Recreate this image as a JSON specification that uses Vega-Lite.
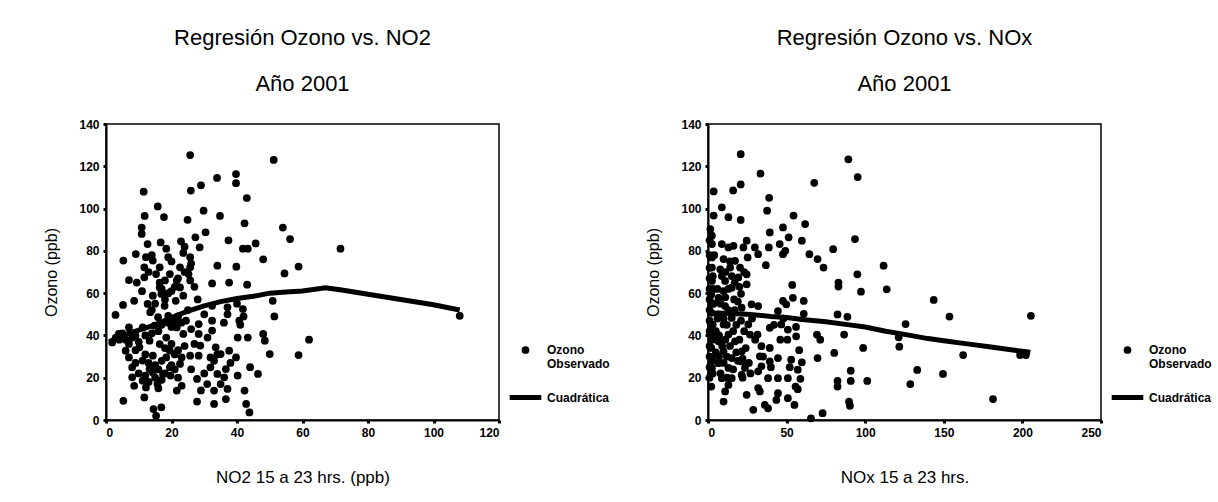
{
 "$schema": "https://vega.github.io/schema/vega-lite/v6.json",
 "background": "white",
 "padding": {"left": 43, "top": 26, "right": 0, "bottom": 0},
 "spacing": 209,
 "bounds": "flush",
 "datasets": {
  "no2_obs": [
   {"no2":25.7,"ozono":125.3},{"no2":51.2,"ozono":123},{"no2":33.9,"ozono":114.5},{"no2":39.7,"ozono":116.3},{"no2":39.7,"ozono":112},{"no2":29,"ozono":111},{"no2":25.9,"ozono":108.5},{"no2":11.5,"ozono":108},{"no2":43,"ozono":105},{"no2":15.8,"ozono":101},{"no2":17.7,"ozono":96},{"no2":11.8,"ozono":96.5},{"no2":24.9,"ozono":94.7},{"no2":29.8,"ozono":99},{"no2":34.8,"ozono":96.5},{"no2":42.3,"ozono":93},{"no2":10.9,"ozono":91},{"no2":10.9,"ozono":88},{"no2":30.4,"ozono":88.8},{"no2":27.3,"ozono":86.4},{"no2":16.7,"ozono":84},{"no2":22.9,"ozono":84.5},{"no2":12.7,"ozono":83.2},{"no2":37.4,"ozono":85},{"no2":45.7,"ozono":83.5},{"no2":43.3,"ozono":81},{"no2":41.8,"ozono":81},{"no2":28.6,"ozono":81.7},{"no2":5.3,"ozono":75.4},{"no2":9.1,"ozono":78.5},{"no2":12.2,"ozono":77},{"no2":18.4,"ozono":81},{"no2":19,"ozono":77},{"no2":23.6,"ozono":79},{"no2":25.7,"ozono":77},{"no2":48,"ozono":76},{"no2":14.3,"ozono":75.4},{"no2":11.7,"ozono":72.2},{"no2":16.4,"ozono":72.2},{"no2":22.6,"ozono":72.2},{"no2":25.7,"ozono":72.2},{"no2":34,"ozono":73},{"no2":39.8,"ozono":72.5},{"no2":15.3,"ozono":69},{"no2":19.5,"ozono":69},{"no2":25.2,"ozono":69},{"no2":11.7,"ozono":67.5},{"no2":7,"ozono":66.2},{"no2":9.4,"ozono":65},{"no2":16.4,"ozono":65},{"no2":21.6,"ozono":66},{"no2":25.7,"ozono":66},{"no2":32.4,"ozono":64.6},{"no2":37.6,"ozono":65},{"no2":43.1,"ozono":64},{"no2":11,"ozono":60.9},{"no2":16.4,"ozono":62.7},{"no2":22.6,"ozono":62.7},{"no2":20,"ozono":61},{"no2":23.6,"ozono":58.8},{"no2":14.3,"ozono":58.8},{"no2":16.9,"ozono":59.6},{"no2":8.6,"ozono":56.4},{"no2":12.7,"ozono":54.9},{"no2":5.2,"ozono":54.4},{"no2":17.9,"ozono":54},{"no2":21.3,"ozono":56.4},{"no2":32.4,"ozono":54},{"no2":37.1,"ozono":53.3},{"no2":41.8,"ozono":52.5},{"no2":50.9,"ozono":56.4},{"no2":2.9,"ozono":49.7},{"no2":13.5,"ozono":51},{"no2":15.9,"ozono":48.6},{"no2":19,"ozono":49.3},{"no2":24.4,"ozono":47},{"no2":37.1,"ozono":50},{"no2":40.7,"ozono":47},{"no2":51.4,"ozono":49},{"no2":28.3,"ozono":45.4},{"no2":32.4,"ozono":47},{"no2":7,"ozono":43.8},{"no2":11.2,"ozono":43.8},{"no2":14.8,"ozono":44.6},{"no2":21.6,"ozono":43.8},{"no2":28.3,"ozono":40.7},{"no2":32.4,"ozono":42.3},{"no2":3.9,"ozono":40.7},{"no2":1.9,"ozono":36.7},{"no2":8,"ozono":39},{"no2":13.3,"ozono":37.5},{"no2":18.4,"ozono":39},{"no2":23.6,"ozono":40.7},{"no2":40.2,"ozono":39},{"no2":43.3,"ozono":39},{"no2":48,"ozono":40.7},{"no2":48.5,"ozono":37.5},{"no2":6,"ozono":32.8},{"no2":10.2,"ozono":34.4},{"no2":16.4,"ozono":35.9},{"no2":19.5,"ozono":32.8},{"no2":28.8,"ozono":35.2},{"no2":33.5,"ozono":34.4},{"no2":37.6,"ozono":32.8},{"no2":7,"ozono":29.6},{"no2":11.2,"ozono":28.1},{"no2":14.3,"ozono":30.4},{"no2":18.4,"ozono":29.6},{"no2":23.1,"ozono":29.6},{"no2":25.7,"ozono":30.4},{"no2":28.3,"ozono":30.4},{"no2":31.9,"ozono":29.6},{"no2":35,"ozono":31.2},{"no2":39.7,"ozono":29.6},{"no2":50,"ozono":31.2},{"no2":8,"ozono":24.9},{"no2":13.3,"ozono":24.1},{"no2":19.5,"ozono":24.9},{"no2":22.6,"ozono":26.5},{"no2":31.9,"ozono":24.9},{"no2":36.6,"ozono":24.1},{"no2":8,"ozono":20.2},{"no2":11.2,"ozono":18.6},{"no2":14.3,"ozono":22.5},{"no2":17.4,"ozono":21.8},{"no2":19.7,"ozono":21},{"no2":27.8,"ozono":19.4},{"no2":34,"ozono":21.8},{"no2":36.1,"ozono":20.2},{"no2":40.2,"ozono":21},{"no2":46.4,"ozono":21.8},{"no2":8.6,"ozono":16.2},{"no2":12.2,"ozono":15.4},{"no2":15.7,"ozono":17},{"no2":23.1,"ozono":16.2},{"no2":30.9,"ozono":17},{"no2":33,"ozono":13.9},{"no2":37.1,"ozono":14.7},{"no2":11.7,"ozono":10.7},{"no2":21.6,"ozono":13.9},{"no2":42.3,"ozono":13.9},{"no2":5.3,"ozono":9.1},{"no2":27.8,"ozono":8.7},{"no2":33,"ozono":7.6},{"no2":36.6,"ozono":9.9},{"no2":42.8,"ozono":7.6},{"no2":16.9,"ozono":6},{"no2":14.5,"ozono":5.2},{"no2":43.8,"ozono":3.6},{"no2":15.3,"ozono":2},{"no2":54,"ozono":91},{"no2":56.2,"ozono":85.6},{"no2":71.6,"ozono":81},{"no2":58.8,"ozono":72.6},{"no2":54.5,"ozono":69.3},{"no2":62,"ozono":38},{"no2":58.8,"ozono":30.7},{"no2":108,"ozono":49.3},
   {"no2":9,"ozono":40},{"no2":10,"ozono":37},{"no2":12,"ozono":40},{"no2":14,"ozono":41},{"no2":16,"ozono":42},{"no2":17,"ozono":45},{"no2":19,"ozono":46},{"no2":20,"ozono":44},{"no2":21,"ozono":47},{"no2":22,"ozono":49},{"no2":23,"ozono":46},{"no2":12,"ozono":31},{"no2":13,"ozono":27},{"no2":15,"ozono":26},{"no2":16,"ozono":24},{"no2":17,"ozono":28},{"no2":18,"ozono":34},{"no2":20,"ozono":36},{"no2":21,"ozono":31},{"no2":22,"ozono":33},{"no2":24,"ozono":35},{"no2":9,"ozono":27},{"no2":10,"ozono":22},{"no2":12,"ozono":21},{"no2":13,"ozono":18},{"no2":15,"ozono":20},{"no2":16,"ozono":15},{"no2":17,"ozono":19},{"no2":18,"ozono":22},{"no2":20,"ozono":26},{"no2":21,"ozono":24},{"no2":22,"ozono":20},{"no2":6,"ozono":38},{"no2":5,"ozono":41},{"no2":4,"ozono":38},{"no2":3,"ozono":39},{"no2":7,"ozono":36},{"no2":9,"ozono":33},{"no2":14,"ozono":52},{"no2":15,"ozono":55},{"no2":18,"ozono":57},{"no2":19,"ozono":60},{"no2":21,"ozono":63},{"no2":22,"ozono":67},{"no2":24,"ozono":70},{"no2":18,"ozono":66},{"no2":17,"ozono":62},{"no2":13,"ozono":70},{"no2":14,"ozono":78},{"no2":20,"ozono":75},{"no2":24,"ozono":82},{"no2":26,"ozono":74},{"no2":27,"ozono":63},{"no2":28,"ozono":57},{"no2":30,"ozono":50},{"no2":31,"ozono":39},{"no2":33,"ozono":28},{"no2":34,"ozono":31},{"no2":30,"ozono":22},{"no2":26,"ozono":24},{"no2":29,"ozono":14},{"no2":35,"ozono":17},{"no2":38,"ozono":27},{"no2":41,"ozono":45},{"no2":42,"ozono":49},{"no2":44,"ozono":25},{"no2":40,"ozono":55},{"no2":36,"ozono":46},{"no2":26,"ozono":43},{"no2":25,"ozono":52},{"no2":27,"ozono":36}
  ],
  "no2_fit": [
   {"no2":1,"ozono":37},{"no2":5,"ozono":40},{"no2":10,"ozono":42.5},{"no2":15,"ozono":45},{"no2":20,"ozono":48.5},{"no2":25,"ozono":51.5},{"no2":30,"ozono":54},{"no2":35,"ozono":56},{"no2":40,"ozono":57.5},{"no2":45,"ozono":58.5},{"no2":50,"ozono":60},{"no2":55,"ozono":60.5},{"no2":60,"ozono":61},{"no2":67,"ozono":62.5},{"no2":72,"ozono":61.5},{"no2":80,"ozono":59.5},{"no2":90,"ozono":57},{"no2":100,"ozono":54.5},{"no2":108,"ozono":52}
  ],
  "nox_obs": [
   {"nox":20.8,"ozono":125.7},{"nox":89.3,"ozono":123.3},{"nox":95.2,"ozono":114.9},{"nox":33.4,"ozono":116.5},{"nox":67.6,"ozono":112.2},{"nox":20.8,"ozono":111.4},{"nox":16,"ozono":108.6},{"nox":3.6,"ozono":108.1},{"nox":38.9,"ozono":105.1},{"nox":8.8,"ozono":100.6},{"nox":37.6,"ozono":99},{"nox":54.4,"ozono":96.7},{"nox":3.6,"ozono":96.7},{"nox":13,"ozono":95.9},{"nox":20.8,"ozono":94.6},{"nox":61.8,"ozono":92.7},{"nox":47.7,"ozono":91.1},{"nox":1.5,"ozono":90.3},{"nox":2.5,"ozono":87.2},{"nox":39.3,"ozono":88.7},{"nox":93.5,"ozono":85.6},{"nox":51.3,"ozono":86.4},{"nox":59.7,"ozono":84.8},{"nox":24.6,"ozono":84.8},{"nox":2.5,"ozono":83.2},{"nox":8.8,"ozono":83.2},{"nox":16.2,"ozono":82.4},{"nox":29.8,"ozono":81.6},{"nox":45.6,"ozono":83.2},{"nox":38.7,"ozono":81.6},{"nox":79.6,"ozono":80.8},{"nox":13,"ozono":81.6},{"nox":22.5,"ozono":81.6},{"nox":31.9,"ozono":78.4},{"nox":47.7,"ozono":78.4},{"nox":64.5,"ozono":78.4},{"nox":69.7,"ozono":76.1},{"nox":49.2,"ozono":80},{"nox":25.2,"ozono":76.9},{"nox":2.5,"ozono":76.9},{"nox":9.9,"ozono":76.1},{"nox":17.2,"ozono":75.3},{"nox":73.5,"ozono":72.1},{"nox":36.8,"ozono":73.2},{"nox":7.8,"ozono":71.3},{"nox":14.1,"ozono":72.1},{"nox":20.4,"ozono":72.1},{"nox":2.5,"ozono":72.1},{"nox":95,"ozono":68.9},{"nox":8.8,"ozono":68.1},{"nox":15.1,"ozono":68.1},{"nox":24.6,"ozono":68.9},{"nox":2.5,"ozono":65.8},{"nox":10.9,"ozono":65.8},{"nox":24.6,"ozono":64.2},{"nox":19.3,"ozono":67.4},{"nox":53.6,"ozono":63.9},{"nox":83,"ozono":65},{"nox":83,"ozono":63.1},{"nox":97.3,"ozono":60.7},{"nox":15.1,"ozono":62.6},{"nox":9.9,"ozono":61},{"nox":21,"ozono":59.7},{"nox":2.1,"ozono":59.4},{"nox":6.7,"ozono":57.8},{"nox":16.6,"ozono":57},{"nox":47.7,"ozono":56.3},{"nox":54,"ozono":57.8},{"nox":60.9,"ozono":56.3},{"nox":3.6,"ozono":55},{"nox":27.7,"ozono":54.7},{"nox":31.9,"ozono":53.9},{"nox":49.8,"ozono":54.7},{"nox":10.9,"ozono":53.9},{"nox":21.4,"ozono":53.1},{"nox":44.5,"ozono":51.5},{"nox":2.1,"ozono":50.7},{"nox":6.3,"ozono":49.9},{"nox":60.9,"ozono":50.2},{"nox":82.4,"ozono":49.9},{"nox":88.7,"ozono":48.8},{"nox":15.1,"ozono":48.3},{"nox":2.1,"ozono":45.2},{"nox":9.9,"ozono":45.2},{"nox":25.6,"ozono":45.2},{"nox":39.3,"ozono":43.6},{"nox":46.6,"ozono":45.2},{"nox":50.8,"ozono":42.8},{"nox":2.5,"ozono":40.4},{"nox":13,"ozono":40.4},{"nox":26.7,"ozono":40.4},{"nox":31.5,"ozono":40.4},{"nox":56.1,"ozono":39.6},{"nox":69.3,"ozono":40.4},{"nox":71.4,"ozono":38},{"nox":86.6,"ozono":40.4},{"nox":50.5,"ozono":38},{"nox":6.7,"ozono":37.2},{"nox":17.2,"ozono":37.2},{"nox":34,"ozono":34.9},{"nox":39.3,"ozono":34.1},{"nox":2.1,"ozono":34.1},{"nox":9.9,"ozono":32.5},{"nox":21.5,"ozono":32.5},{"nox":98.7,"ozono":34.1},{"nox":80.3,"ozono":31.7},{"nox":69.7,"ozono":29.3},{"nox":33,"ozono":30.1},{"nox":44.5,"ozono":29.3},{"nox":52.9,"ozono":28.5},{"nox":2.5,"ozono":29.3},{"nox":15.1,"ozono":29.3},{"nox":6.7,"ozono":26.9},{"nox":21.4,"ozono":27.7},{"nox":34,"ozono":25.4},{"nox":39.3,"ozono":27.7},{"nox":59.7,"ozono":27.3},{"nox":2.5,"ozono":24.6},{"nox":13,"ozono":24.6},{"nox":23.5,"ozono":24.6},{"nox":31.9,"ozono":23},{"nox":44.5,"ozono":19.8},{"nox":57.1,"ozono":23.8},{"nox":50.8,"ozono":19.8},{"nox":58.8,"ozono":19.5},{"nox":90.8,"ozono":23.3},{"nox":8.8,"ozono":19.8},{"nox":15.1,"ozono":19.8},{"nox":21.4,"ozono":21.4},{"nox":38.2,"ozono":19.8},{"nox":82.4,"ozono":18.5},{"nox":90.8,"ozono":18.5},{"nox":101.3,"ozono":18.5},{"nox":2.1,"ozono":15.8},{"nox":13,"ozono":16.6},{"nox":31.9,"ozono":15.1},{"nox":55.7,"ozono":15.8},{"nox":82.4,"ozono":15.8},{"nox":57.1,"ozono":14.6},{"nox":10.9,"ozono":13.5},{"nox":24.6,"ozono":11.9},{"nox":33,"ozono":13.5},{"nox":44.5,"ozono":12.7},{"nox":50.8,"ozono":10.3},{"nox":9.9,"ozono":8.7},{"nox":36.1,"ozono":7.1},{"nox":43.5,"ozono":9.5},{"nox":55,"ozono":7.1},{"nox":89.7,"ozono":8.7},{"nox":90.3,"ozono":6.7},{"nox":28.8,"ozono":4.8},{"nox":38.2,"ozono":5.5},{"nox":72.9,"ozono":3.2},{"nox":65.5,"ozono":0.8},
   {"nox":111.7,"ozono":73},{"nox":113.7,"ozono":61.8},{"nox":143.6,"ozono":56.8},{"nox":153.6,"ozono":48.9},{"nox":205.4,"ozono":49.3},{"nox":125.7,"ozono":45.4},{"nox":121.3,"ozono":39.1},{"nox":121.7,"ozono":34.7},{"nox":162.3,"ozono":30.7},{"nox":198.5,"ozono":30.7},{"nox":202.2,"ozono":30.7},{"nox":133.1,"ozono":23.7},{"nox":149.5,"ozono":21.8},{"nox":128.7,"ozono":17},{"nox":181.3,"ozono":9.9},
   {"nox":1,"ozono":20},{"nox":1,"ozono":25},{"nox":1,"ozono":30},{"nox":1,"ozono":35},{"nox":1,"ozono":42},{"nox":1,"ozono":47},{"nox":1,"ozono":52},{"nox":1,"ozono":57},{"nox":1,"ozono":62},{"nox":1,"ozono":67},{"nox":1,"ozono":72},{"nox":1,"ozono":78},{"nox":1,"ozono":85},{"nox":3,"ozono":22},{"nox":3,"ozono":28},{"nox":3,"ozono":38},{"nox":3,"ozono":45},{"nox":3,"ozono":55},{"nox":3,"ozono":62},{"nox":3,"ozono":68},{"nox":4,"ozono":78},{"nox":5,"ozono":32},{"nox":5,"ozono":42},{"nox":6,"ozono":48},{"nox":6,"ozono":62},{"nox":7,"ozono":30},{"nox":7,"ozono":40},{"nox":8,"ozono":22},{"nox":8,"ozono":55},{"nox":9,"ozono":35},{"nox":10,"ozono":27},{"nox":10,"ozono":48},{"nox":11,"ozono":38},{"nox":11,"ozono":58},{"nox":11,"ozono":70},{"nox":12,"ozono":20},{"nox":12,"ozono":30},{"nox":12,"ozono":45},{"nox":13,"ozono":52},{"nox":13,"ozono":62},{"nox":14,"ozono":35},{"nox":14,"ozono":75},{"nox":16,"ozono":24},{"nox":16,"ozono":42},{"nox":17,"ozono":52},{"nox":17,"ozono":65},{"nox":18,"ozono":32},{"nox":18,"ozono":45},{"nox":19,"ozono":28},{"nox":19,"ozono":56},{"nox":20,"ozono":38},{"nox":20,"ozono":63},{"nox":21,"ozono":47},{"nox":22,"ozono":20},{"nox":22,"ozono":29},{"nox":23,"ozono":42},{"nox":23,"ozono":70},{"nox":24,"ozono":34},{"nox":26,"ozono":27},{"nox":27,"ozono":22},{"nox":28,"ozono":48},{"nox":30,"ozono":38},{"nox":35,"ozono":30},{"nox":40,"ozono":25},{"nox":42,"ozono":45},{"nox":46,"ozono":38},{"nox":48,"ozono":48},{"nox":52,"ozono":25},{"nox":56,"ozono":44},{"nox":58,"ozono":33}
  ],
  "nox_fit": [
   {"nox":0,"ozono":50.5},{"nox":10,"ozono":50.5},{"nox":25,"ozono":50},{"nox":40,"ozono":49},{"nox":50,"ozono":48.5},{"nox":60,"ozono":47.5},{"nox":75,"ozono":46.5},{"nox":90,"ozono":45},{"nox":100,"ozono":44},{"nox":113,"ozono":42},{"nox":125,"ozono":40.5},{"nox":140,"ozono":38.5},{"nox":150,"ozono":37.5},{"nox":165,"ozono":36},{"nox":180,"ozono":34.5},{"nox":195,"ozono":33},{"nox":205,"ozono":32}
  ]
 },
 "hconcat": [
  {
   "width": 393,
   "height": 296,
   "view": {"stroke": "black", "strokeWidth": 1.5},
   "title": {"text": ["Regresión Ozono vs. NO2", "Año 2001"]},
   "layer": [
    {
     "data": {"name": "no2_obs"},
     "mark": {"type": "point", "filled": true, "opacity": 1},
     "encoding": {
      "x": {"field": "no2", "type": "quantitative", "scale": {"domain": [0, 120], "nice": false}, "axis": {"values": [0, 20, 40, 60, 80, 100, 120], "title": "NO2 15 a 23 hrs. (ppb)"}},
      "y": {"field": "ozono", "type": "quantitative", "scale": {"domain": [0, 140], "nice": false}, "axis": {"values": [0, 20, 40, 60, 80, 100, 120, 140], "title": "Ozono (ppb)"}},
      "color": {"datum": "Ozono Observado", "type": "nominal", "scale": {"domain": ["Ozono Observado", "Cuadrática"], "range": ["black", "black"]},
       "legend": {"orient": "none", "legendX": 401, "legendY": 220, "title": null, "labelExpr": "datum.label == 'Ozono Observado' ? ['Ozono', 'Observado'] : datum.label"}},
      "stroke": {"datum": "Ozono Observado", "type": "nominal", "scale": {"domain": ["Ozono Observado", "Cuadrática"], "range": ["black", "black"]},
       "legend": {"orient": "none", "legendX": 401, "legendY": 220, "title": null, "labelExpr": "datum.label == 'Ozono Observado' ? ['Ozono', 'Observado'] : datum.label"}},
      "shape": {"datum": "Ozono Observado", "type": "nominal", "scale": {"domain": ["Ozono Observado", "Cuadrática"], "range": ["circle", "stroke"]},
       "legend": {"orient": "none", "legendX": 401, "legendY": 220, "title": null, "labelExpr": "datum.label == 'Ozono Observado' ? ['Ozono', 'Observado'] : datum.label"}},
      "size": {"datum": "Ozono Observado", "type": "nominal", "scale": {"domain": ["Ozono Observado", "Cuadrática"], "range": [60, 1000]},
       "legend": {"orient": "none", "legendX": 401, "legendY": 220, "title": null, "labelExpr": "datum.label == 'Ozono Observado' ? ['Ozono', 'Observado'] : datum.label"}},
      "strokeWidth": {"datum": "Ozono Observado", "type": "nominal", "scale": {"domain": ["Ozono Observado", "Cuadrática"], "range": [0, 5]},
       "legend": {"orient": "none", "legendX": 401, "legendY": 220, "title": null, "labelExpr": "datum.label == 'Ozono Observado' ? ['Ozono', 'Observado'] : datum.label"}}
     }
    },
    {
     "data": {"name": "no2_fit"},
     "mark": {"type": "line", "strokeWidth": 5, "color": "black"},
     "encoding": {
      "x": {"field": "no2", "type": "quantitative"},
      "y": {"field": "ozono", "type": "quantitative"}
     }
    }
   ]
  },
  {
   "width": 393,
   "height": 296,
   "view": {"stroke": "black", "strokeWidth": 1.5},
   "title": {"text": ["Regresión Ozono vs. NOx", "Año 2001"]},
   "layer": [
    {
     "data": {"name": "nox_obs"},
     "mark": {"type": "point", "filled": true, "opacity": 1},
     "encoding": {
      "x": {"field": "nox", "type": "quantitative", "scale": {"domain": [0, 250], "nice": false}, "axis": {"values": [0, 50, 100, 150, 200, 250], "title": "NOx 15 a 23 hrs."}},
      "y": {"field": "ozono", "type": "quantitative", "scale": {"domain": [0, 140], "nice": false}, "axis": {"values": [0, 20, 40, 60, 80, 100, 120, 140], "title": "Ozono (ppb)"}},
      "color": {"datum": "Ozono Observado", "type": "nominal", "scale": {"domain": ["Ozono Observado", "Cuadrática"], "range": ["black", "black"]},
       "legend": {"orient": "none", "legendX": 401, "legendY": 220, "title": null, "labelExpr": "datum.label == 'Ozono Observado' ? ['Ozono', 'Observado'] : datum.label"}},
      "stroke": {"datum": "Ozono Observado", "type": "nominal", "scale": {"domain": ["Ozono Observado", "Cuadrática"], "range": ["black", "black"]},
       "legend": {"orient": "none", "legendX": 401, "legendY": 220, "title": null, "labelExpr": "datum.label == 'Ozono Observado' ? ['Ozono', 'Observado'] : datum.label"}},
      "shape": {"datum": "Ozono Observado", "type": "nominal", "scale": {"domain": ["Ozono Observado", "Cuadrática"], "range": ["circle", "stroke"]},
       "legend": {"orient": "none", "legendX": 401, "legendY": 220, "title": null, "labelExpr": "datum.label == 'Ozono Observado' ? ['Ozono', 'Observado'] : datum.label"}},
      "size": {"datum": "Ozono Observado", "type": "nominal", "scale": {"domain": ["Ozono Observado", "Cuadrática"], "range": [60, 1000]},
       "legend": {"orient": "none", "legendX": 401, "legendY": 220, "title": null, "labelExpr": "datum.label == 'Ozono Observado' ? ['Ozono', 'Observado'] : datum.label"}},
      "strokeWidth": {"datum": "Ozono Observado", "type": "nominal", "scale": {"domain": ["Ozono Observado", "Cuadrática"], "range": [0, 5]},
       "legend": {"orient": "none", "legendX": 401, "legendY": 220, "title": null, "labelExpr": "datum.label == 'Ozono Observado' ? ['Ozono', 'Observado'] : datum.label"}}
     }
    },
    {
     "data": {"name": "nox_fit"},
     "mark": {"type": "line", "strokeWidth": 5, "color": "black"},
     "encoding": {
      "x": {"field": "nox", "type": "quantitative"},
      "y": {"field": "ozono", "type": "quantitative"}
     }
    }
   ]
  }
 ],
 "resolve": {"scale": {"x": "independent", "y": "independent", "color": "independent", "stroke": "independent", "shape": "independent", "size": "independent", "strokeWidth": "independent"}, "legend": {"color": "independent", "stroke": "independent", "shape": "independent", "size": "independent", "strokeWidth": "independent"}},
 "config": {
  "font": "Liberation Sans",
  "view": {"stroke": "black", "strokeWidth": 1.5},
  "axis": {"domainColor": "black", "domainWidth": 2, "tickColor": "black", "tickSize": 3, "tickWidth": 3, "grid": false, "labelFont": "Liberation Sans", "labelFontWeight": "bold", "labelFontSize": 12, "labelColor": "black", "labelPadding": 4, "titleFont": "Liberation Sans", "titleFontWeight": "normal", "titleFontSize": 16, "titleColor": "black"},
  "axisX": {"titlePadding": 31, "titleFontSize": 17},
  "axisY": {"titlePadding": 19},
  "title": {"font": "Liberation Sans", "fontSize": 22, "fontWeight": "normal", "color": "black", "lineHeight": 46, "anchor": "middle", "offset": 22},
  "legend": {"labelFont": "Liberation Sans", "labelFontSize": 12, "labelFontWeight": "bold", "labelColor": "black", "rowPadding": 9, "labelOffset": 3}
 }
}
